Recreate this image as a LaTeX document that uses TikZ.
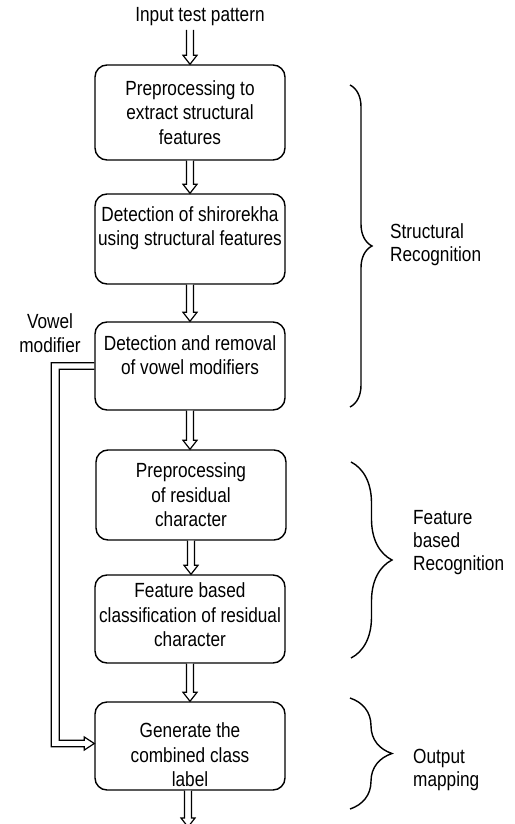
\documentclass[tikz,border=0pt]{standalone}
\usepackage{fontspec}
\setmainfont[FakeStretch=0.84]{Liberation Sans}
\usetikzlibrary{calc,decorations.pathreplacing}
\tikzset{
  box/.style={draw, line width=1.4pt, rounded corners=12pt, minimum width=190pt, minimum height=#1, inner sep=0pt},
  txt/.style={font=\fontsize{20.5}{24.5}\selectfont, align=center, inner sep=0pt},
  sidetxt/.style={font=\fontsize{20.5}{23}\selectfont, align=left, inner sep=0pt, anchor=west},
  harrow/.style={draw, line width=1.2pt, fill=white, line join=miter},
  brc/.style={draw, line width=1.4pt, decorate, decoration={brace, amplitude=#1}}
}
\newcommand\hollowarrow[2]{%
  \draw[harrow] let \p1=(#1), \p2=(#2) in
    (\x1-3.5pt,\y1) -- (\x1-3.5pt,\y2+9pt) -- (\x1-7pt,\y2+9pt) -- (\x1,\y2)
    -- (\x1+7pt,\y2+9pt) -- (\x1+3.5pt,\y2+9pt) -- (\x1+3.5pt,\y1);}
\begin{document}
\begin{tikzpicture}[x=1pt,y=-1pt]
\useasboundingbox (0,0) rectangle (514,824);

\node[txt] (in) at (200,17) {Input test pattern};

\node[box=95pt,  label={[txt]center:{Preprocessing to\\extract structural\\features}}] (b1) at (190,112.5) {};
\node[box=90pt,  label={[txt, yshift=11pt]center:{Detection of shirorekha\\using structural features}}] (b2) at (190,239) {};
\node[box=88pt,  label={[txt, yshift=11pt]center:{Detection and removal\\of vowel modifiers}}] (b3) at (190,366) {};
\node[box=90pt,  label={[txt]center:{Preprocessing\\of residual\\character}}] (b4) at (191,495) {};
\node[box=88pt,  label={[txt, yshift=4pt]center:{Feature based\\classification of residual\\character}}] (b5) at (190,619) {};
\node[box=88pt,  label={[txt, yshift=-9pt]center:{Generate the\\combined class\\label}}] (b6) at (190,746) {};

\coordinate (top) at (190,30);
\coordinate (out) at (188,827);

\hollowarrow{top}{b1.north}
\hollowarrow{b1.south}{b2.north}
\hollowarrow{b2.south}{b3.north}
\hollowarrow{b3.south}{b4.north}
\hollowarrow{b4.south}{b5.north}
\hollowarrow{b5.south}{b6.north}
\hollowarrow{b6.south -| out}{out}

% vowel modifier path
\draw[harrow, fill=none] let \p1=(b3.west), \p2=($(b6.west)+(0,-2.5)$) in
  (\x1,\y1+3.3pt) -- (\x1-43pt,\y1+3.3pt) -- (\x1-43pt,\y2-3.3pt)
  -- (\x2-10pt,\y2-3.3pt) -- (\x2-10pt,\y2-6.5pt) -- (\x2,\y2)
  -- (\x2-10pt,\y2+6.5pt) -- (\x2-10pt,\y2+3.3pt) -- (\x1-35pt,\y2+3.3pt)
  -- (\x1-35pt,\y1-3.3pt) -- (\x1,\y1-3.3pt);
\node[txt] (vm) at (50,333) {Vowel\\modifier};

% braces
\coordinate (br1a) at (350,85);
\coordinate (br1b) at (350,407);
\coordinate (br2a) at (351,462);
\coordinate (br2b) at (351,658);
\coordinate (br3a) at (350,698);
\coordinate (br3b) at (350,809);
\draw[brc=22pt] (br1a) -- (br1b);
\draw[brc=41pt] (br2a) -- (br2b);
\draw[brc=42pt] (br3a) -- (br3b);

\node[sidetxt] (s1) at (390,245) {Structural\\Recognition};
\node[sidetxt] (s2) at (413,543) {Feature\\based\\Recognition};
\node[sidetxt] (s3) at (413,770) {Output\\mapping};
\end{tikzpicture}
\end{document}
